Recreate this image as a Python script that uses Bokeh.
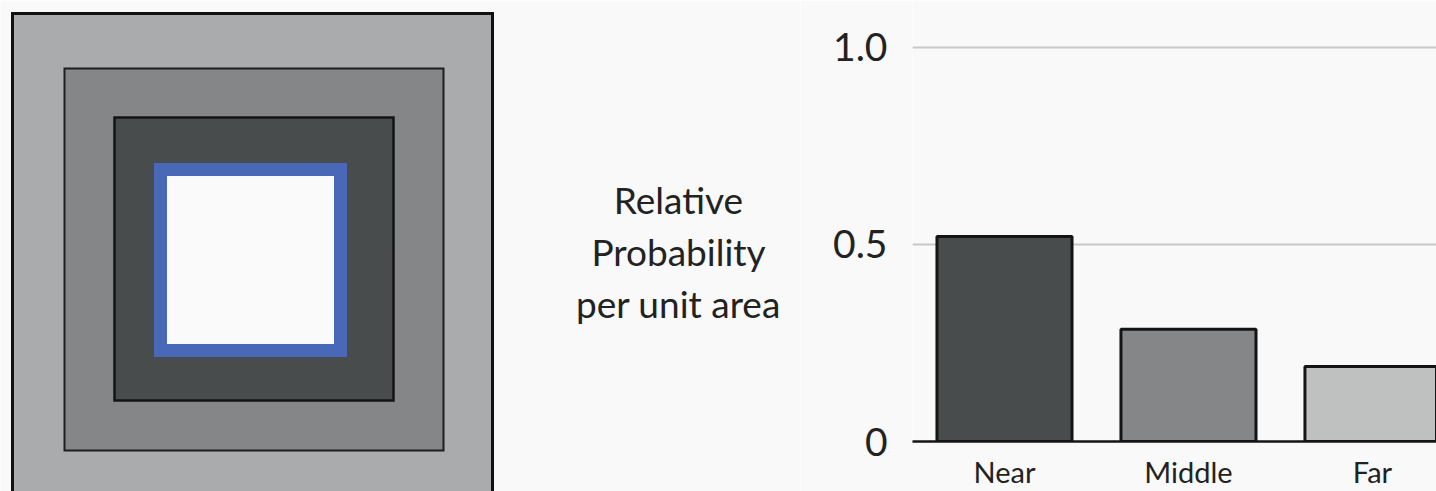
from bokeh.plotting import figure
from bokeh.layouts import row
from bokeh.models import Range1d, FixedTicker
from bokeh.core.properties import value
from bokeh.embed import file_html
from bokeh.resources import INLINE
import numpy as np

# ---- bar chart data ----
categories = ["Near", "Middle", "Far"]
probability = [0.52, 0.285, 0.19]
bar_colors = ["#484c4d", "#858688", "#bfc1c1"]
y_ticks = [0, 0.5, 1.0]
y_tick_labels = ["0", "0.5", "1.0"]
axis_label_lines = ["Relative", "Probability", "per unit area"]

# ---- nested zone diagram (image pixel coordinates) ----
zone_names = ["outer", "middle", "inner", "target"]
zone_left = [12, 64, 114, 160]
zone_right = [492, 443, 393, 340]
zone_top = [13, 68, 117, 169]
zone_bottom = [505, 450, 400, 350]
zone_fill = ["#a9abac", "#858688", "#484c4d", "#fafafa"]
zone_line = ["#111111", "#1e1e1e", "#141414", "#4a68b8"]
zone_line_width = [3, 2, 2.5, 13]

BG = "#f9f9f9"
FONT = "Lato"
TXT = "#222222"
W, H = 1436, 491
LEFT_W = 800

# ---- left figure: diagram + y axis title ----
left = figure(width=LEFT_W, height=H, x_range=Range1d(0, LEFT_W), y_range=Range1d(H, 0),
              output_backend="svg", toolbar_location=None, min_border=0,
              x_axis_location=None, y_axis_location=None)
left.frame_align = False
left.grid.visible = False
left.outline_line_color = None
left.background_fill_color = BG
left.border_fill_color = BG
left.quad(left=zone_left, right=zone_right, top=zone_top, bottom=zone_bottom,
          fill_color=zone_fill, line_color=zone_line, line_width=zone_line_width,
          line_join="miter")
left.text(x=[678], y=[251], text=["\n".join(axis_label_lines)], text_align="center",
          text_baseline="middle", text_font=value(FONT), text_font_size="37px",
          text_color=TXT, text_line_height=1.15)

# ---- right figure: bar chart ----
xs = np.arange(len(categories)) + 0.5
right = figure(width=W - LEFT_W, height=H, x_range=Range1d(0, 2.848), y_range=Range1d(0, 1.119),
               output_backend="svg", toolbar_location=None,
               min_border_left=112, min_border_right=0, min_border_top=0, min_border_bottom=0)
right.frame_align = False
right.outline_line_color = None
right.background_fill_color = BG
right.border_fill_color = BG
right.xgrid.visible = False
right.ygrid.ticker = FixedTicker(ticks=[t for t in y_ticks if t > 0])
right.ygrid.grid_line_color = "#c8c8c8"
right.ygrid.grid_line_width = 2

right.vbar(x=xs, top=probability, bottom=0, width=0.734, fill_color=bar_colors,
           line_color="#141414", line_width=3)

xa = right.xaxis[0]
xa.ticker = FixedTicker(ticks=[float(x) for x in xs])
xa.major_label_overrides = {float(x): c for x, c in zip(xs, categories)}
xa.axis_line_color = "#141414"
xa.axis_line_width = 2.5
xa.major_tick_line_color = None
xa.minor_tick_line_color = None
xa.major_tick_out = 0
xa.major_tick_in = 0
xa.axis_label_standoff = 0
xa.major_label_standoff = 12
xa.major_label_text_font = FONT
xa.major_label_text_font_size = "29px"
xa.major_label_text_color = TXT

ya = right.yaxis[0]
ya.ticker = FixedTicker(ticks=y_ticks)
ya.major_label_overrides = {t: l for t, l in zip(y_ticks, y_tick_labels)}
ya.axis_line_color = None
ya.major_tick_line_color = None
ya.minor_tick_line_color = None
ya.major_tick_out = 0
ya.major_tick_in = 0
ya.major_label_standoff = 25
ya.major_label_text_font = FONT
ya.major_label_text_font_size = "39px"
ya.major_label_text_color = TXT

layout = row(left, right, spacing=0)
open("out.html", "w").write(file_html(layout, INLINE))
